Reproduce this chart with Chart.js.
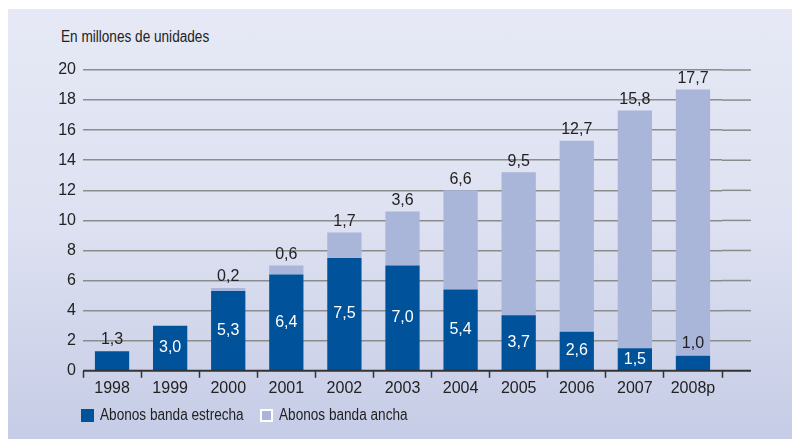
<!DOCTYPE html>
<html>
<head>
<meta charset="utf-8">
<script src="https://cdn.jsdelivr.net/npm/chart.js@4/dist/chart.umd.min.js"></script>
<style>
  html, body { margin: 0; padding: 0; background: #fff; }
  #wrap { position: relative; width: 793px; height: 439px; font-family: "Liberation Sans", Arial, sans-serif; color: #222; }
  #panel {
    position: absolute; left: 8px; top: 9px; width: 784px; height: 430px;
    background: linear-gradient(to bottom, #e6e9f5 0%, #dde1f1 50%, #c6cce6 100%);
  }
  .narrow { position: absolute; font-size: 16px; white-space: nowrap; transform: scaleX(0.85); transform-origin: left center; }
  #unit { left: 61px; top: 28px; }
  .item { position: absolute; top: 409px; height: 14px; }
  .box { position: absolute; left: 0; top: 0; width: 13px; height: 13px; box-sizing: border-box; }
  .item .narrow { left: 19px; top: -3px; }
  canvas { position: absolute; left: 0; top: 0; }
</style>
</head>
<body>
<div id="wrap">
  <div id="panel"></div>
  <div id="unit" class="narrow">En millones de unidades</div>
  <canvas id="myChart" width="793" height="439"></canvas>
  <div id="legend"></div>
</div>
<script>
// data
var years = ['1998', '1999', '2000', '2001', '2002', '2003', '2004', '2005', '2006', '2007', '2008p'];
var estrecha = [1.3, 3.0, 5.3, 6.4, 7.5, 7.0, 5.4, 3.7, 2.6, 1.5, 1.0];
var ancha = [0, 0, 0.2, 0.6, 1.7, 3.6, 6.6, 9.5, 12.7, 15.8, 17.7];
var yTicks = [0, 2, 4, 6, 8, 10, 12, 14, 16, 18, 20];
var seriesNames = ['Abonos banda estrecha', 'Abonos banda ancha'];

var darkBlue = '#00529b';
var lightBlue = '#a9b6da';
var fontFamily = '"Liberation Sans", Arial, sans-serif';

function fmt(v) {
    return v.toFixed(1).replace('.', ',');
}

// value labels: dark bars inside (white), light ones on top
var valueLabels = {
    id: 'valueLabels',
    afterDatasetsDraw: function(chart) {
        var ctx = chart.ctx;
        var meta0 = chart.getDatasetMeta(0);
        var meta1 = chart.getDatasetMeta(1);
        ctx.save();
        ctx.font = '16px ' + fontFamily;
        ctx.textAlign = 'center';
        ctx.textBaseline = 'middle';
        for (var i = 0; i < years.length; i++) {
            var bar = meta0.data[i];
            if (estrecha[i] >= 1.4) {
                ctx.fillStyle = '#fff';
                ctx.fillText(fmt(estrecha[i]), bar.x, (bar.y + bar.base) / 2);
            } else {
                ctx.fillStyle = '#222';
                ctx.fillText(fmt(estrecha[i]), bar.x, bar.y - 12);
            }
            if (ancha[i] > 0) {
                var b2 = meta1.data[i];
                ctx.fillStyle = '#222';
                ctx.fillText(fmt(ancha[i]), b2.x, b2.y - 11);
            }
        }
        ctx.restore();
    }
};

// gridlines and x axis run a bit past the last category
var extendGrid = {
    id: 'extendGrid',
    beforeDatasetsDraw: function(chart) {
        var ctx = chart.ctx;
        var y = chart.scales.y;
        var x0 = chart.chartArea.right;
        var x1 = x0 + 29;
        ctx.save();
        ctx.strokeStyle = '#8c8c8c';
        ctx.lineWidth = 1.5;
        yTicks.forEach(function(t) {
            if (t == 0) return;
            var py = y.getPixelForValue(t);
            ctx.beginPath();
            ctx.moveTo(x0, py);
            ctx.lineTo(x1, py);
            ctx.stroke();
        });
        ctx.restore();
    },
    afterDraw: function(chart) {
        var ctx = chart.ctx;
        var py = chart.scales.y.getPixelForValue(0);
        ctx.save();
        ctx.strokeStyle = '#333';
        ctx.lineWidth = 2;
        ctx.beginPath();
        ctx.moveTo(chart.chartArea.left, py);
        ctx.lineTo(chart.chartArea.right + 29, py);
        ctx.stroke();
        ctx.restore();
    }
};

var ctx = document.getElementById('myChart').getContext('2d');
var chart = new Chart(ctx, {
    type: 'bar',
    data: {
        labels: years,
        datasets: [
            {
                label: seriesNames[0],
                data: estrecha,
                backgroundColor: darkBlue,
                borderWidth: 0,
                barPercentage: 0.59,
                categoryPercentage: 1
            },
            {
                label: seriesNames[1],
                data: ancha,
                backgroundColor: lightBlue,
                borderWidth: 0,
                barPercentage: 0.59,
                categoryPercentage: 1
            }
        ]
    },
    options: {
        responsive: false,
        animation: false,
        layout: {
            padding: { left: 58, right: 71, top: 70, bottom: 40 }
        },
        plugins: {
            legend: { display: false },
            tooltip: { enabled: false }
        },
        scales: {
            x: {
                stacked: true,
                grid: {
                    offset: true,
                    drawOnChartArea: false,
                    tickLength: 7,
                    tickWidth: 1.5,
                    color: '#333'
                },
                border: { display: false },
                ticks: {
                    color: '#222',
                    padding: 1,
                    font: { family: fontFamily, size: 16 }
                }
            },
            y: {
                stacked: true,
                min: 0,
                max: 20,
                afterFit: function(scale) { scale.width = 25; },
                afterBuildTicks: function(scale) {
                    scale.ticks = yTicks.map(function(v) { return { value: v }; });
                },
                grid: {
                    color: function(c) { return c.tick.value == 0 ? 'rgba(0,0,0,0)' : '#8c8c8c'; },
                    lineWidth: 1.5,
                    drawTicks: false
                },
                border: { display: false },
                ticks: {
                    color: '#222',
                    padding: 7,
                    font: { family: fontFamily, size: 16 }
                }
            }
        }
    },
    plugins: [extendGrid, valueLabels]
});

// html legend
var legendLeft = [81, 260];
var legendHtml = '';
chart.data.datasets.forEach(function(ds, i) {
    var border = i == 1 ? 'border:2px solid #fff;' : '';
    legendHtml += '<div class="item" style="left:' + legendLeft[i] + 'px">' +
        '<span class="box" style="background:' + ds.backgroundColor + ';' + border + '"></span>' +
        '<span class="narrow">' + ds.label + '</span></div>';
});
document.getElementById('legend').innerHTML = legendHtml;
</script>
</body>
</html>
